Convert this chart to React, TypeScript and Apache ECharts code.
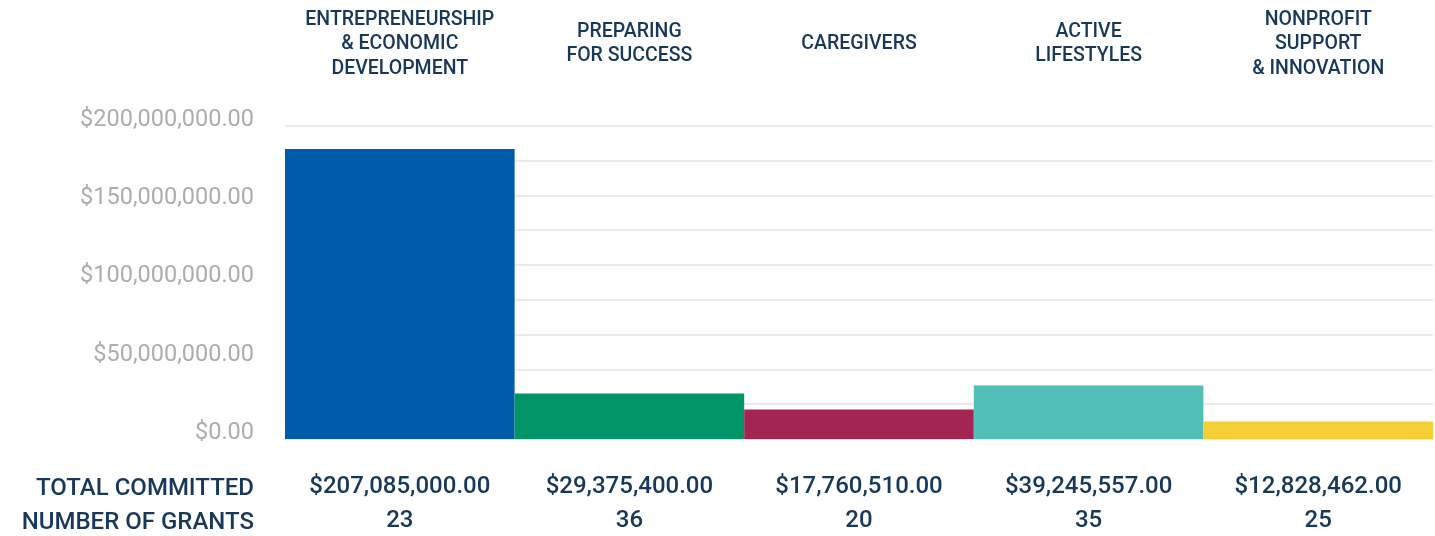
import React, { useEffect, useRef } from "react";
import * as echarts from "echarts";

const categories = [
  "ENTREPRENEURSHIP\n& ECONOMIC\nDEVELOPMENT",
  "PREPARING\nFOR SUCCESS",
  "CAREGIVERS",
  "ACTIVE\nLIFESTYLES",
  "NONPROFIT\nSUPPORT\n& INNOVATION",
];
// bar heights as drawn in the picture
const barValues = [185200000, 29000000, 18900000, 34100000, 11200000];
const totalCommitted = [
  "$207,085,000.00",
  "$29,375,400.00",
  "$17,760,510.00",
  "$39,245,557.00",
  "$12,828,462.00",
];
const numberOfGrants = ["23", "36", "20", "35", "25"];
const barColors = ["#005BAA", "#009566", "#A32551", "#53C0B8", "#F5CF36"];
const rowTitles = ["TOTAL COMMITTED", "NUMBER OF GRANTS"];

const NAVY = "#17375B";
const FONT = "Roboto";

export default function App() {
  const ref = useRef<HTMLDivElement>(null);
  useEffect(() => {
    if (!ref.current) return;
    const chart = echarts.init(ref.current, null, { renderer: "svg" });
    const fmt = (v: number) =>
      "$" +
      v.toLocaleString("en-US", { minimumFractionDigits: 2, maximumFractionDigits: 2 });
    chart.setOption({
      animation: false,
      grid: { left: 285, right: 2, top: 125.7, bottom: 95.3 },
      xAxis: [
        {
          type: "category",
          data: categories,
          position: "top",
          axisLine: { show: false },
          axisTick: { show: false },
          axisLabel: {
            interval: 0,
            hideOverlap: false,
            margin: 83,
            verticalAlign: "middle",
            color: NAVY,
            fontFamily: FONT,
            fontWeight: 500,
            fontSize: 19.5,
            lineHeight: 24.5,
            align: "center",
          },
        },
        {
          type: "category",
          data: categories,
          position: "bottom",
          axisLine: { show: false },
          axisTick: { show: false },
          axisLabel: {
            interval: 0,
            hideOverlap: false,
            margin: 63,
            verticalAlign: "middle",
            color: NAVY,
            fontFamily: FONT,
            fontWeight: 500,
            fontSize: 24,
            lineHeight: 34,
            align: "center",
            formatter: (_v: string, i: number) =>
              totalCommitted[i] + "\n" + numberOfGrants[i],
          },
        },
      ],
      yAxis: [
        {
          type: "value",
          min: 0,
          max: 200000000,
          interval: 50000000,
          splitLine: { show: false },
          axisLine: { show: false },
          axisTick: { show: false },
          axisLabel: {
            margin: 31,
            color: "#ADADAD",
            fontFamily: FONT,
            fontSize: 23.5,
            verticalAlign: "bottom",
            lineHeight: 16,
            formatter: (v: number) => fmt(v),
          },
        },
        {
          type: "value",
          min: 0,
          max: 200000000,
          interval: 200000000 / 9,
          position: "left",
          axisLabel: { show: false },
          axisLine: { show: false },
          axisTick: { show: false },
          splitLine: { show: true, lineStyle: { color: "#EBEBEB", width: 2 } },
        },
      ],
      graphic: rowTitles.map((t, i) => ({
        type: "text",
        x: 254,
        y: 487 + i * 34,
        style: {
          text: t,
          fill: NAVY,
          font: `500 24px ${FONT}`,
          textAlign: "right",
          textVerticalAlign: "middle",
        },
      })),
      series: [
        {
          type: "bar",
          xAxisIndex: 0,
          yAxisIndex: 0,
          barWidth: "100%",
          barCategoryGap: 0,
          data: barValues.map((v, i) => ({ value: v, itemStyle: { color: barColors[i] } })),
        },
      ],
    });
    return () => chart.dispose();
  }, []);
  return (
    <div
      ref={ref}
      style={{ position: "fixed", left: 0, top: 0, width: 1435, height: 536 }}
    />
  );
}
